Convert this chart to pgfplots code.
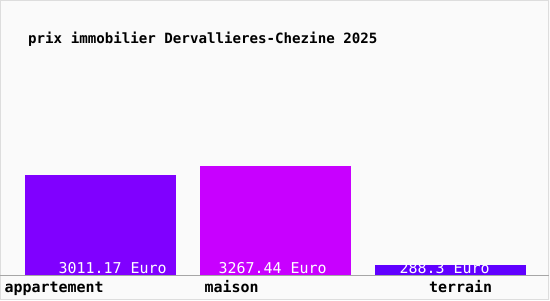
\documentclass[border=0pt]{standalone}
\usepackage{pgfplots}
\pgfplotsset{compat=1.18}
\usepackage{fontspec}
\setmainfont{DejaVu Sans Mono}
\setmonofont{DejaVu Sans Mono}
\definecolor{bgc}{HTML}{FAFAFA}
\definecolor{bordc}{HTML}{DDDDDD}
\definecolor{cApp}{HTML}{8000FF}
\definecolor{cMai}{HTML}{C800FF}
\definecolor{cTer}{HTML}{6000FF}
\begin{document}
\begin{tikzpicture}[x=1bp,y=1bp]
\useasboundingbox (0,-25) rectangle (550,275);
\fill[bgc] (0,-25) rectangle (550,275);
\draw[bordc, line width=1bp] (0.5,-24.5) rectangle (548.5,274.5);
\node[anchor=base west, inner sep=0pt, font=\bfseries\fontsize{14.2}{16}\selectfont] at (28,232) {prix immobilier Dervallieres-Chezine 2025};
\begin{axis}[
  at={(0,0)}, anchor=south west,
  scale only axis, width=549bp, height=200bp,
  xmin=-0.5743, xmax=2.5629, ymin=0, ymax=5995,
  axis y line=none, axis x line=bottom,
  x axis line style={draw=gray!70, line width=1bp, -},
  xtick=\empty, ytick=\empty,
  clip=false,
  ybar, bar width=0.8629, bar shift=0pt,
]
\addplot[fill=cApp, draw=none] coordinates {(0,3011.17)};
\addplot[fill=cMai, draw=none] coordinates {(1,3267.44)};
\addplot[fill=cTer, draw=none] coordinates {(2,288.3)};
% value labels inside bars
\addplot[draw=none, mark=none, nodes near coords, point meta=explicit symbolic,
  visualization depends on={value \thisrow{dx} \as \dx},
  every node near coord/.append style={anchor=base west, inner sep=0pt, xshift=\dx bp, yshift=2bp, white, font=\fontsize{15}{17}\selectfont}]
  table[x=x, y=y, meta=label] {
x y dx label
0 0 -42.0 {3011.17 Euro}
1 0 -57.0 {3267.44 Euro}
2 0 -51.0 {288.3 Euro}
};
% category labels
\addplot[draw=none, mark=none, nodes near coords, point meta=explicit symbolic,
  visualization depends on={value \thisrow{dx} \as \dx},
  every node near coord/.append style={anchor=base west, inner sep=0pt, xshift=\dx bp, yshift=-17bp, black, font=\bfseries\fontsize{15}{17}\selectfont}]
  table[x=x, y=y, meta=label] {
x y dx label
0 0 -96.0 appartement
1 0 -71.0 maison
2 0 -21.5 terrain
};
\end{axis}
\end{tikzpicture}
\end{document}
